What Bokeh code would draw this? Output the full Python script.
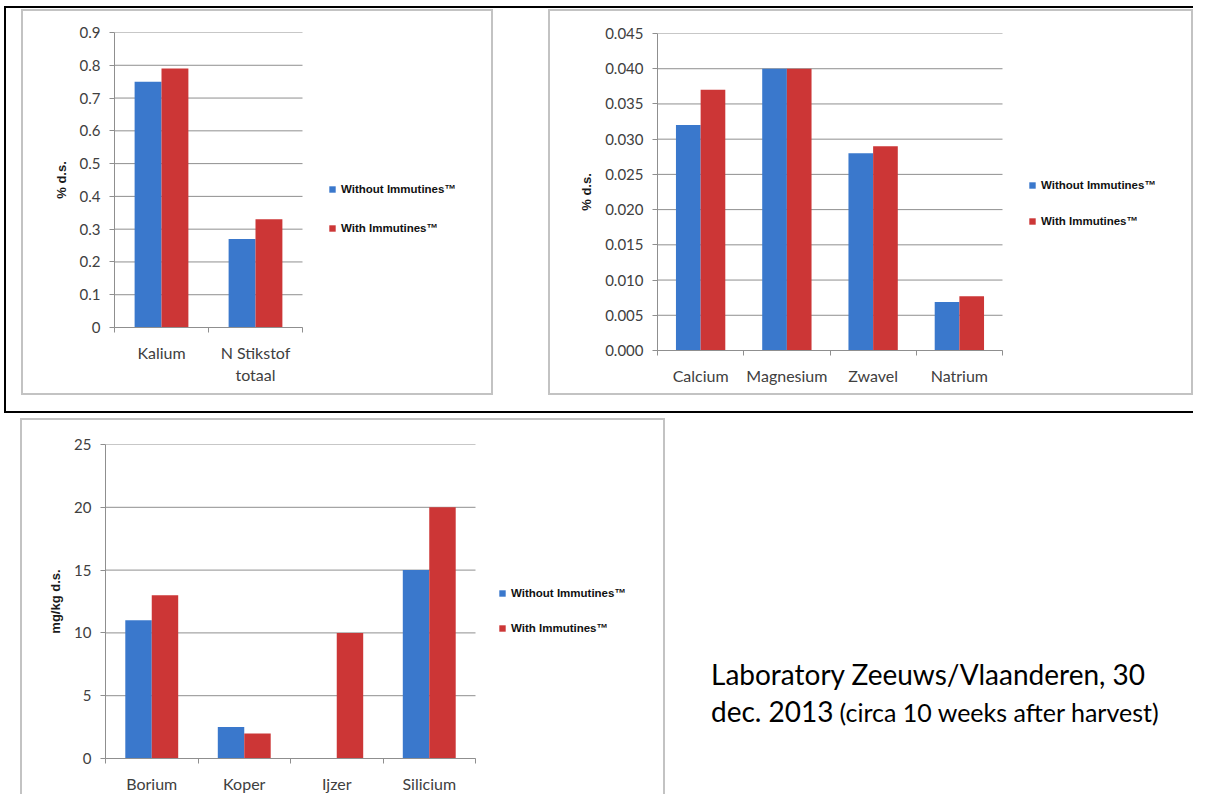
from bokeh.plotting import figure
from bokeh.models import (Range1d, FixedTicker, NumeralTickFormatter, Legend, LegendItem,
                          ColumnDataSource, Div)
from bokeh.transform import dodge
from bokeh.layouts import row, column
from bokeh.embed import file_html
from bokeh.resources import INLINE

# ---------------- data ----------------
series_names = ["Without Immutines\u2122", "With Immutines\u2122"]

cats1 = ["Kalium", "N Stikstof\ntotaal"]
without1 = [0.75, 0.27]
with1 = [0.79, 0.33]
yticks1 = [0, 0.1, 0.2, 0.3, 0.4, 0.5, 0.6, 0.7, 0.8, 0.9]
ytitle1 = "% d.s."

cats2 = ["Calcium", "Magnesium", "Zwavel", "Natrium"]
without2 = [0.032, 0.040, 0.028, 0.0069]
with2 = [0.037, 0.040, 0.029, 0.0077]
yticks2 = [0, 0.005, 0.010, 0.015, 0.020, 0.025, 0.030, 0.035, 0.040, 0.045]
ytitle2 = "% d.s."

cats3 = ["Borium", "Koper", "Ijzer", "Silicium"]
without3 = [11, 2.5, 0, 15]
with3 = [13, 2, 10, 20]
yticks3 = [0, 5, 10, 15, 20, 25]
ytitle3 = "mg/kg d.s."

note_line1 = "Laboratory Zeeuws/Vlaanderen, 30"
note_line2a = "dec. 2013"
note_line2b = "(circa 10 weeks after harvest)"

BLUE = "#3a78cc"
RED = "#cc3636"
GRID = "#8f8f8f"
TICKTXT = "#404040"
FRAME = "2px solid #c3c3c3"


def make_chart(cats, wo, wi, yticks, fmt, ytitle, width, height, mleft, cat_w, mtop, mbottom,
               leg_dx, leg_y, leg_spacing, title_standoff, styles):
    n = len(cats)
    centers = [i + 0.5 for i in range(n)]
    # the frame reaches the right edge of the chart so the legend can sit beside the bars
    x_end = n * (width - mleft) / cat_w
    p = figure(x_range=Range1d(0, x_end), y_range=Range1d(yticks[0], yticks[-1]),
               width=width, height=height, output_backend="svg", toolbar_location=None,
               min_border_left=mleft, min_border_right=0, min_border_top=mtop,
               min_border_bottom=mbottom, outline_line_color=None, styles=styles)
    # horizontal gridlines across the category area only
    p.segment(x0=[0] * len(yticks), x1=[n] * len(yticks), y0=yticks, y1=yticks,
              line_color=GRID, line_width=1)
    src = ColumnDataSource(dict(pos=centers, wo=wo, wi=wi))
    r1 = p.vbar(x=dodge("pos", -0.143), top="wo", width=0.286, source=src,
                fill_color=BLUE, line_color=None)
    r2 = p.vbar(x=dodge("pos", 0.143), top="wi", width=0.286, source=src,
                fill_color=RED, line_color=None)

    xa = p.xaxis[0]
    xa.bounds = (0, n)
    xa.ticker = FixedTicker(ticks=centers, minor_ticks=list(range(n + 1)))
    xa.major_label_overrides = {c: name for c, name in zip(centers, cats)}
    xa.axis_line_color = GRID
    xa.major_tick_line_color = None
    xa.major_tick_out = 0
    xa.major_tick_in = 0
    xa.minor_tick_line_color = GRID
    xa.minor_tick_out = 5
    xa.minor_tick_in = 0
    xa.major_label_standoff = 10
    xa.major_label_text_font = "Lato"
    xa.major_label_text_font_size = "16px"
    xa.major_label_text_color = TICKTXT

    ya = p.yaxis[0]
    ya.ticker = FixedTicker(ticks=yticks)
    ya.formatter = NumeralTickFormatter(format=fmt)
    ya.axis_line_color = GRID
    ya.major_tick_line_color = GRID
    ya.major_tick_out = 5
    ya.major_tick_in = 0
    ya.minor_tick_line_color = None
    ya.major_label_text_font = "Lato"
    ya.major_label_text_font_size = "15px"
    ya.major_label_text_color = TICKTXT
    ya.major_label_standoff = 9
    ya.axis_label = ytitle
    ya.axis_label_text_font = "Liberation Sans"
    ya.axis_label_text_font_style = "bold"
    ya.axis_label_text_font_size = "13px"
    ya.axis_label_text_color = "#1a1a1a"
    ya.axis_label_standoff = title_standoff

    p.grid.visible = False

    legend = Legend(items=[LegendItem(label=series_names[0], renderers=[r1]),
                           LegendItem(label=series_names[1], renderers=[r2])],
                    location=(cat_w + leg_dx, leg_y), border_line_color=None,
                    background_fill_alpha=0, padding=0, margin=0, spacing=leg_spacing,
                    label_height=14, glyph_height=8, glyph_width=8, label_standoff=5,
                    label_text_font="Liberation Sans", label_text_font_style="bold",
                    label_text_font_size="11.5px", label_text_color="#111111")
    p.add_layout(legend)
    return p


p1 = make_chart(cats1, without1, with1, yticks1, "0.[0]", ytitle1, 472, 386, 91, 188, 21, 70,
                26, 92, 25, 8, {"border": FRAME})
p1.margin = (1, 0, 16, 15)

p2 = make_chart(cats2, without2, with2, yticks2, "0.000", ytitle2, 645, 386, 107, 345, 22, 47,
                26, 122, 22, 8, {"border": FRAME})
p2.margin = (1, 0, 16, 55)

p3 = make_chart(cats3, without3, with3, yticks3, "0", ytitle3, 645, 376, 83, 370, 24, 38,
                23, 123, 21, 8,
                {"border-top": FRAME, "border-left": FRAME, "border-right": FRAME})
p3.margin = (5, 0, 0, 20)

note_html = (
    '<div style="margin-left:46px;padding-top:238px;font-family:Lato,sans-serif;'
    'font-size:28px;line-height:37px;color:#000;white-space:nowrap;">'
    f'{note_line1}<br>{note_line2a}'
    f'<span style="font-size:25px;padding-left:6px;">{note_line2b}</span></div>'
)
note = Div(text=note_html, width=539, height=376)
note.margin = (5, 0, 0, 0)

top = row(column(p1), column(p2),
          styles={"border-top": "2px solid black", "border-left": "2px solid black",
                  "border-bottom": "2px solid black"})
top.margin = (6, 0, 0, 4)
bottom = row(p3, note)
layout = column(top, bottom)

open("out.html", "w").write(file_html(layout, INLINE))
